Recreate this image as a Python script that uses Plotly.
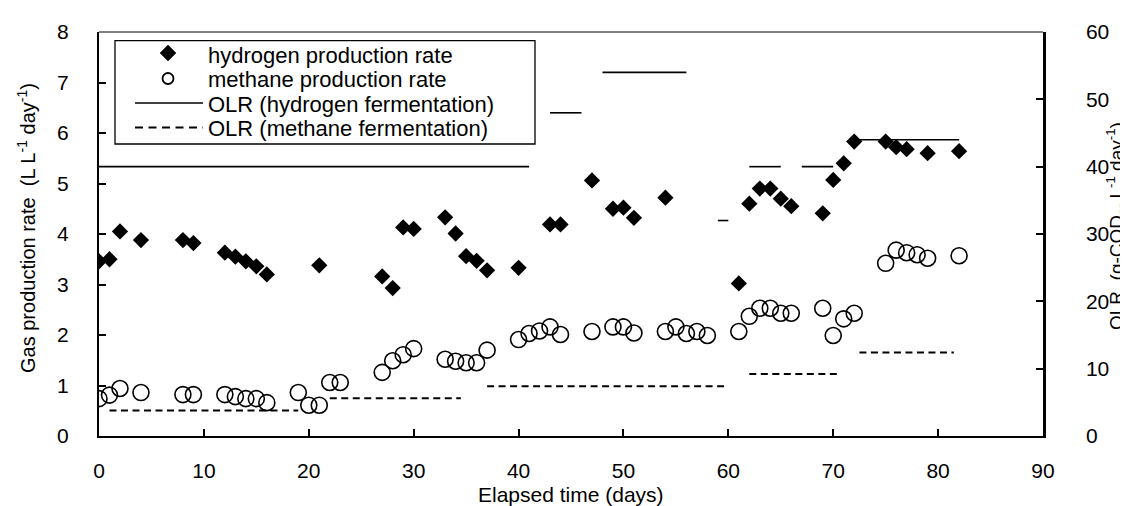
import plotly.graph_objects as go

# ---- data ----
days_h2 = [0, 1, 2, 4, 8, 9, 12, 13, 14, 15, 16, 21, 27, 28, 29, 30, 33, 34, 35, 36, 37, 40,
           43, 44, 47, 49, 50, 51, 54, 61, 62, 63, 64, 65, 66, 69, 70, 71, 72, 75, 76, 77, 79, 82]
h2_rate = [3.46, 3.5, 4.05, 3.88, 3.88, 3.82, 3.63, 3.55, 3.46, 3.36, 3.2, 3.38, 3.16, 2.93,
           4.13, 4.1, 4.33, 4.01, 3.56, 3.47, 3.28, 3.33, 4.19, 4.19, 5.06, 4.5, 4.52, 4.32,
           4.72, 3.02, 4.6, 4.9, 4.9, 4.7, 4.55, 4.41, 5.07, 5.4, 5.83, 5.83, 5.72, 5.68, 5.6, 5.64]

days_ch4 = [0, 1, 2, 4, 8, 9, 12, 13, 14, 15, 16, 19, 20, 21, 22, 23, 27, 28, 29, 30, 33, 34,
            35, 36, 37, 40, 41, 42, 43, 44, 47, 49, 50, 51, 54, 55, 56, 57, 58, 61, 62, 63, 64,
            65, 66, 69, 70, 71, 72, 75, 76, 77, 78, 79, 82]
ch4_rate = [0.74, 0.81, 0.94, 0.86, 0.82, 0.82, 0.82, 0.78, 0.74, 0.74, 0.66, 0.86, 0.61, 0.61,
            1.06, 1.06, 1.26, 1.49, 1.61, 1.73, 1.52, 1.48, 1.45, 1.45, 1.70, 1.91, 2.03, 2.08,
            2.16, 2.01, 2.07, 2.16, 2.16, 2.04, 2.07, 2.16, 2.03, 2.07, 1.99, 2.07, 2.37, 2.53,
            2.53, 2.43, 2.43, 2.53, 1.99, 2.32, 2.43, 3.42, 3.68, 3.63, 3.59, 3.52, 3.57]

# OLR stages (hydrogen fermentation): start day, end day, OLR
h2_olr_start = [0, 43, 48, 59, 62, 67, 72.5]
h2_olr_end = [41, 46, 56, 60, 65, 70, 82]
h2_olr = [40, 48, 54, 32, 40, 40, 44]

# OLR stages (methane fermentation)
ch4_olr_start = [1, 22, 37, 62, 72.5]
ch4_olr_end = [19, 34.5, 60, 70.5, 81.5]
ch4_olr = [3.8, 5.6, 7.4, 9.2, 12.4]

legend_labels = ["hydrogen production rate", "methane production rate",
                 "OLR (hydrogen fermentation)", "OLR (methane fermentation)"]


def segments(starts, ends, vals):
    xs, ys = [], []
    for s, e, v in zip(starts, ends, vals):
        xs += [s, e, None]
        ys += [v, v, None]
    return xs, ys


FONT = "Liberation Sans, Arial, sans-serif"
DASH = "7px,4.5px"

# plot area in pixels (for legend placement)
L, R, T, B = 91, 1035, 24, 428
W, H = R - L, B - T


def px(x):
    return (x - L) / W


def py(y):
    return (B - y) / H


fig = go.Figure()

fig.add_trace(go.Scatter(
    x=days_h2, y=h2_rate, mode="markers", name=legend_labels[0], showlegend=False,
    marker=dict(symbol="diamond", size=12.5, color="black"), yaxis="y"))
fig.add_trace(go.Scatter(
    x=days_ch4, y=ch4_rate, mode="markers", name=legend_labels[1], showlegend=False,
    marker=dict(symbol="circle-open", size=16, color="black", line=dict(width=1.6, color="black")),
    yaxis="y"))
hx, hy = segments(h2_olr_start, h2_olr_end, h2_olr)
fig.add_trace(go.Scatter(
    x=hx, y=hy, mode="lines", name=legend_labels[2], showlegend=False,
    line=dict(color="black", width=1.6), yaxis="y2", connectgaps=False))
cx, cy = segments(ch4_olr_start, ch4_olr_end, ch4_olr)
fig.add_trace(go.Scatter(
    x=cx, y=cy, mode="lines", name=legend_labels[3], showlegend=False,
    line=dict(color="black", width=2, dash=DASH), yaxis="y2", connectgaps=False))

axis_common = dict(showgrid=False, zeroline=False, showline=True, linecolor="black",
                   ticks="inside", tickcolor="black", tickwidth=1.5, ticklen=7,
                   tickfont=dict(family=FONT, size=21, color="black"))

# ---- hand-built legend (box, samples, labels) ----
row_y = [46, 70.5, 95, 119.5]
sample_cx = 160
shapes = [
    dict(type="line", xref="paper", yref="paper", x0=0, x1=1, y0=1, y1=1,
         line=dict(color="black", width=1)),
    dict(type="rect", xref="paper", yref="paper", x0=px(107), x1=px(527), y0=py(136), y1=py(32.7),
         line=dict(color="black", width=1.3), fillcolor="white", layer="above"),
    dict(type="path", xref="paper", yref="paper", xsizemode="pixel", ysizemode="pixel",
         xanchor=px(sample_cx), yanchor=py(row_y[0] - 1),
         path="M -8 0 L 0 8 L 8 0 L 0 -8 Z", fillcolor="black", line=dict(color="black", width=0.5)),
    dict(type="circle", xref="paper", yref="paper", xsizemode="pixel", ysizemode="pixel",
         xanchor=px(sample_cx), yanchor=py(row_y[1]), x0=-5.5, x1=5.5, y0=-5.5, y1=5.5,
         line=dict(color="black", width=1.8), fillcolor="rgba(0,0,0,0)"),
    dict(type="line", xref="paper", yref="paper", x0=px(127), x1=px(195), y0=py(row_y[2]),
         y1=py(row_y[2]), line=dict(color="black", width=1.6)),
    dict(type="line", xref="paper", yref="paper", x0=px(127), x1=px(195), y0=py(row_y[3]),
         y1=py(row_y[3]), line=dict(color="black", width=2, dash="8px,5.5px")),
]

annotations = [
    dict(text="Elapsed time (days)", xref="paper", yref="paper", x=0.5, y=py(487),
         xanchor="center", yanchor="middle", showarrow=False,
         font=dict(family=FONT, size=21, color="black")),
    dict(text="Gas production rate  (L L<sup>-1</sup> day<sup>-1</sup>)", xref="paper",
         yref="paper", x=px(18), y=py(220), xanchor="center", yanchor="middle",
         textangle=-90, showarrow=False, font=dict(family=FONT, size=20, color="black")),
    dict(text="OLR  (g-COD<sub>cr</sub> L<sup>-1</sup> day<sup>-1</sup>)", xref="paper",
         yref="paper", x=px(1108), y=py(218), xanchor="center", yanchor="middle",
         textangle=-90, showarrow=False, font=dict(family=FONT, size=19, color="black")),
]
for lab, yy in zip(legend_labels, row_y):
    annotations.append(dict(text=lab, xref="paper", yref="paper", x=px(198), y=py(yy + 1),
                            xanchor="left", yanchor="middle", showarrow=False,
                            font=dict(family=FONT, size=22, color="black")))

fig.update_layout(
    width=1128, height=506,
    margin=dict(l=L, r=1128 - R, t=T, b=506 - B),
    paper_bgcolor="white", plot_bgcolor="white",
    font=dict(family=FONT, size=21, color="black"),
    xaxis=dict(range=[0, 90], dtick=10, tick0=0, linewidth=2, ticklabelstandoff=15, **axis_common),
    yaxis=dict(range=[0, 8], dtick=1, tick0=0, linewidth=2, ticklabelstandoff=24, **axis_common),
    yaxis2=dict(range=[0, 60], dtick=10, tick0=0, overlaying="y", side="right", linewidth=2.5,
                ticklabelstandoff=36, **axis_common),
    showlegend=False,
    shapes=shapes,
    annotations=annotations,
)

fig.write_html("out.html")
